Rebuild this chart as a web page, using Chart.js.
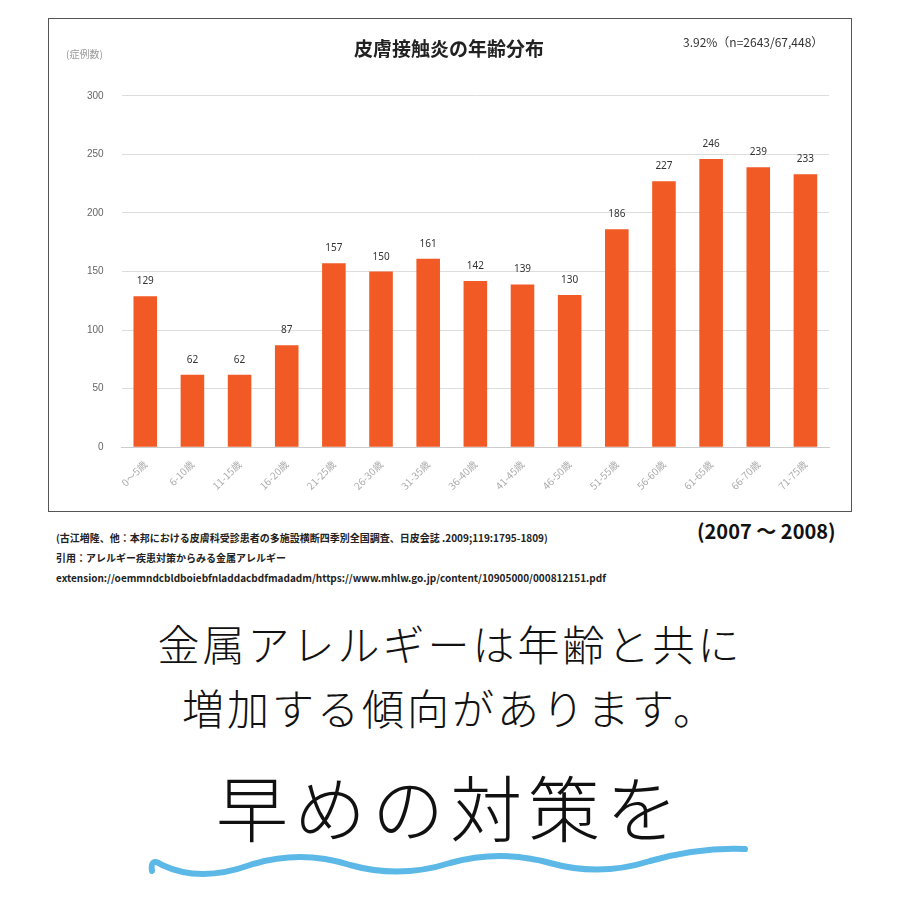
<!DOCTYPE html>
<html><head><meta charset="utf-8">
<script src="https://cdn.jsdelivr.net/npm/chart.js@4.4.0/dist/chart.umd.min.js"></script>
<style>
body{margin:0;background:#fff;font-family:"Noto Sans CJK JP","Noto Sans",sans-serif;}
#wrap{position:relative;width:900px;height:900px;}
#box{position:absolute;left:48px;top:18px;width:804px;height:494px;border:1px solid #555;box-sizing:border-box;}
.t{position:absolute;white-space:nowrap;}
</style></head><body>
<div id="wrap">
<div id="box"><canvas id="c" width="802" height="492"></canvas></div>
<div class="t" style="left:66px;top:46px;font-size:10px;color:#999">(症例数)</div>
<div class="t" style="left:683px;top:33px;font-size:12px;color:#333">3.92%（n=2643/67,448）</div>
<div class="t" style="left:56px;top:530px;font-size:10px;color:#222;font-weight:bold">(古江増隆、他：本邦における皮膚科受診患者の多施設横断四季別全国調査、日皮会誌 .2009;119:1795-1809)</div>
<div class="t" style="left:56px;top:550px;font-size:10px;color:#222;font-weight:bold">引用：アレルギー疾患対策からみる金属アレルギー</div>
<div class="t" style="left:56px;top:570px;font-size:10px;color:#222;font-weight:bold">extension://oemmndcbldboiebfnladdacbdfmadadm/https://www.mhlw.go.jp/content/10905000/000812151.pdf</div>
<div class="t" style="left:697px;top:516px;font-size:20px;color:#111;font-weight:bold">(2007 ～ 2008)</div>
<div class="t" style="left:0;width:900px;text-align:center;top:612px;font-size:42px;font-weight:300;color:#111;letter-spacing:3px">金属アレルギーは年齢と共に</div>
<div class="t" style="left:0;width:900px;text-align:center;top:676px;font-size:42px;font-weight:300;color:#111;letter-spacing:3px">増加する傾向があります。</div>
<div class="t" style="left:0;width:900px;text-align:center;top:752px;font-size:72px;font-weight:300;color:#111;letter-spacing:6px">早めの対策を</div>
<svg class="t" style="left:140px;top:835px" width="620" height="50">
<path d="M12 36 Q10 22 22 30 Q60 48 110 30 Q160 14 210 30 Q260 44 310 28 Q360 14 410 28 Q460 42 510 26 Q560 12 605 14" fill="none" stroke="#5cb8e6" stroke-width="6" stroke-linecap="round"/>
</svg>
</div>
<script>
const ageGroups = ['0～5歳','6-10歳','11-15歳','16-20歳','21-25歳','26-30歳','31-35歳','36-40歳','41-45歳','46-50歳','51-55歳','56-60歳','61-65歳','66-70歳','71-75歳'];
const caseCounts = [129,62,62,87,157,150,161,142,139,130,186,227,246,239,233];

const valueLabels = {
  id: 'valueLabels',
  afterDatasetsDraw(chart) {
    const ctx = chart.ctx;
    ctx.save();
    ctx.font = '10px "Noto Sans", sans-serif';
    ctx.fillStyle = '#333';
    ctx.textAlign = 'center';
    chart.getDatasetMeta(0).data.forEach((bar, i) => {
      ctx.fillText(caseCounts[i], bar.x, bar.y - 12);
    });
    ctx.restore();
  }
};

new Chart(document.getElementById('c'), {
  type: 'bar',
  data: { labels: ageGroups, datasets: [{ data: caseCounts, backgroundColor: '#f15a24', barPercentage: 0.5, categoryPercentage: 1 }] },
  options: {
    responsive: false, animation: false,
    layout: { padding: { left: 20, right: 22, top: 8, bottom: 16 } },
    plugins: {
      legend: { display: false }, tooltip: { enabled: false },
      title: { display: true, text: '皮膚接触炎の年齢分布', color: '#222', font: { size: 19, weight: 'bold', family: '"Noto Sans CJK JP"' }, padding: { top: 10, bottom: 36 } }
    },
    scales: {
      y: { min: 0, max: 300, ticks: { stepSize: 50, color: '#666', font: { size: 10 }, padding: 18 }, grid: { color: '#ddd', drawTicks: false }, border: { display: false } },
      x: { ticks: { color: '#aaa', font: { size: 10, family: '"Noto Sans CJK JP"' }, maxRotation: 45, minRotation: 45 }, grid: { display: false }, border: { color: '#ccc' } }
    }
  },
  plugins: [valueLabels]
});
</script>
</body></html>
